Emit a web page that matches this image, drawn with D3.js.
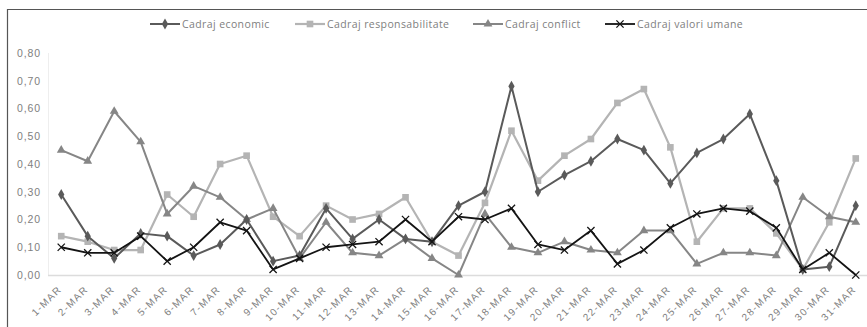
<!DOCTYPE html>
<html>
<head>
<meta charset="utf-8">
<script src="https://cdn.jsdelivr.net/npm/d3@7"></script>
<style>
  html, body { margin: 0; padding: 0; background: #fff; }
  svg { display: block; font-family: "Open Sans", "Liberation Sans", sans-serif; }
</style>
</head>
<body>
<svg id="chart" width="867" height="327"></svg>
<script>
// Days of March shown on the category axis
const days = d3.range(1, 32).map(d => d + "-MAR");

// Share of each framing per day
const economic = [0.29, 0.14, 0.06, 0.15, 0.14, 0.07, 0.11, 0.20, 0.05, 0.07, 0.24, 0.13, 0.20, 0.13, 0.12, 0.25, 0.30, 0.68, 0.30, 0.36, 0.41, 0.49, 0.45, 0.33, 0.44, 0.49, 0.58, 0.34, 0.02, 0.03, 0.25];
const responsabilitate = [0.14, 0.12, 0.09, 0.09, 0.29, 0.21, 0.40, 0.43, 0.21, 0.14, 0.25, 0.20, 0.22, 0.28, 0.12, 0.07, 0.26, 0.52, 0.34, 0.43, 0.49, 0.62, 0.67, 0.46, 0.12, 0.24, 0.24, 0.15, 0.02, 0.19, 0.42];
const conflict = [0.45, 0.41, 0.59, 0.48, 0.22, 0.32, 0.28, 0.20, 0.24, 0.06, 0.19, 0.08, 0.07, 0.13, 0.06, 0.00, 0.22, 0.10, 0.08, 0.12, 0.09, 0.08, 0.16, 0.16, 0.04, 0.08, 0.08, 0.07, 0.28, 0.21, 0.19];
const valoriUmane = [0.10, 0.08, 0.08, 0.14, 0.05, 0.10, 0.19, 0.16, 0.02, 0.06, 0.10, 0.11, 0.12, 0.20, 0.12, 0.21, 0.20, 0.24, 0.11, 0.09, 0.16, 0.04, 0.09, 0.17, 0.22, 0.24, 0.23, 0.17, 0.02, 0.08, 0.00];

const yTicks = [0, 0.1, 0.2, 0.3, 0.4, 0.5, 0.6, 0.7, 0.8];

const seriesNames = ["Cadraj economic", "Cadraj responsabilitate", "Cadraj conflict", "Cadraj valori umane"];

const series = [
  { name: seriesNames[0], values: economic, color: "#5a5a5a", symbol: d3.symbolDiamond, size: 34, width: 2 },
  { name: seriesNames[1], values: responsabilitate, color: "#b4b4b4", symbol: d3.symbolSquare, size: 44, width: 2.2 },
  { name: seriesNames[2], values: conflict, color: "#868686", symbol: d3.symbolTriangle, size: 34, width: 2 },
  { name: seriesNames[3], values: valoriUmane, color: "#141414", symbol: d3.symbolCross, size: 40, width: 1.8, cross: true }
];

const svg = d3.select("#chart");
const W = 867, H = 327;
const textColor = "#808080";

// Outer frame (top and left edges)
svg.append("path")
  .attr("d", `M7.5,${H} V9.5 H${W}`)
  .attr("fill", "none")
  .attr("stroke", "#555")
  .attr("stroke-width", 1.2);

const x = d3.scaleBand().domain(days).range([48, 869]);
const y = d3.scaleLinear().domain([0, 0.8]).range([275, 53]);
const fmt = v => d3.format(".2f")(v).replace(".", ",");

// Faint value axis line
svg.append("line")
  .attr("x1", 48.5).attr("x2", 48.5)
  .attr("y1", y(0.8)).attr("y2", y(0))
  .attr("stroke", "#eeeeee").attr("stroke-width", 1);

// Y axis labels
const yAxis = svg.append("g")
  .attr("transform", "translate(41,0)")
  .call(d3.axisLeft(y).tickValues(yTicks).tickFormat(fmt).tickSize(0).tickPadding(0));
yAxis.select(".domain").remove();
yAxis.selectAll("text")
  .attr("fill", textColor)
  .style("font-size", "10.5px")
  .style("letter-spacing", "0.9px");

// Baseline
svg.append("line")
  .attr("x1", 48).attr("x2", W)
  .attr("y1", y(0) + 0.5).attr("y2", y(0) + 0.5)
  .attr("stroke", "#dcdcdc").attr("stroke-width", 1.5);

// X axis with rotated labels
const xAxis = svg.append("g")
  .attr("transform", `translate(0,${y(0)})`)
  .call(d3.axisBottom(x).tickSize(0).tickPadding(0));
xAxis.select(".domain").remove();
xAxis.selectAll("text")
  .attr("fill", textColor)
  .style("font-size", "10px")
  .style("letter-spacing", "1.3px")
  .attr("text-anchor", "end")
  .attr("dy", "0")
  .attr("transform", "translate(1,15) rotate(-45)");

const line = d3.line()
  .x((d, i) => x(days[i]) + x.bandwidth() / 2)
  .y(d => y(d));

function drawMarker(g, s, cx, cy) {
  if (s.cross) {
    const r = 3.6;
    g.append("path")
      .attr("d", `M${cx - r},${cy - r}L${cx + r},${cy + r}M${cx - r},${cy + r}L${cx + r},${cy - r}`)
      .attr("stroke", s.color).attr("stroke-width", 1.3).attr("fill", "none");
  } else {
    g.append("path")
      .attr("d", d3.symbol().type(s.symbol).size(s.size)())
      .attr("transform", `translate(${cx},${cy})`)
      .attr("fill", s.color);
  }
}

// Draw series in stacking order
const order = [1, 2, 0, 3];
order.forEach(k => {
  const s = series[k];
  const g = svg.append("g");
  g.append("path")
    .datum(s.values)
    .attr("d", line)
    .attr("fill", "none")
    .attr("stroke", s.color)
    .attr("stroke-width", s.width)
    .attr("stroke-linejoin", "round");
  s.values.forEach((v, i) => drawMarker(g, s, x(days[i]) + x.bandwidth() / 2, y(v)));
});

// Legend
const legendX = [150, 295, 473, 605];
series.forEach((s, i) => {
  const g = svg.append("g");
  const ly = 24;
  g.append("line")
    .attr("x1", legendX[i]).attr("x2", legendX[i] + 30)
    .attr("y1", ly).attr("y2", ly)
    .attr("stroke", s.color).attr("stroke-width", s.width);
  drawMarker(g, s, legendX[i] + 15, ly);
  g.append("text")
    .attr("x", legendX[i] + 32).attr("y", ly)
    .attr("dy", "0.35em")
    .attr("fill", textColor)
    .style("font-size", "10.5px")
    .style("letter-spacing", "0.4px")
    .text(s.name);
});
</script>
</body>
</html>
